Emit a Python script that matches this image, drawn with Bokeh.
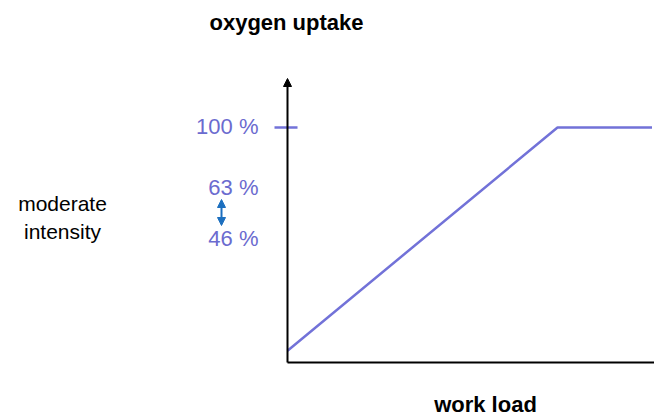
from bokeh.plotting import figure
from bokeh.models import Range1d, Arrow, NormalHead, Label
from bokeh.embed import file_html
from bokeh.resources import INLINE

# data
load = [0, 100, 135]          # work load (arbitrary units)
uptake = [5, 100, 100]        # oxygen uptake (% of max)
pct_labels = ["100 %", "63 %", "46 %"]
side_label = ["moderate", "intensity"]
x_title = "work load"
y_title = "oxygen uptake"

W, H = 654, 418
# pixel mapping helpers (screen px -> data)
OX, OY, KX, KY = 287, 362, 2.7, 2.35
def sx(px):
    return (px - OX) / KX
def sy(py):
    return (OY - py) / KY

p = figure(width=W, height=H, output_backend="svg", toolbar_location=None,
           x_range=Range1d(sx(0), sx(W)), y_range=Range1d(sy(H), sy(0)),
           x_axis_type=None, y_axis_type=None, min_border=0,
           outline_line_color=None)
p.xgrid.visible = False
p.ygrid.visible = False

FONT = "Liberation Sans"
PURPLE = "#7272d8"
TXT = "#6b6bcf"
BLUE = "#1c6fbf"

# axes
p.segment(x0=[0], y0=[0], x1=[sx(654)], y1=[0], line_color="black", line_width=2)
p.add_layout(Arrow(end=NormalHead(size=8, fill_color="black", line_color="black"),
                   x_start=0, y_start=0, x_end=0, y_end=sy(78),
                   line_color="black", line_width=2))

# 100% tick
p.segment(x0=[sx(274)], y0=[uptake[1]], x1=[sx(297)], y1=[uptake[1]],
          line_color=PURPLE, line_width=2.5)

# curve
p.line(load, uptake, line_color=PURPLE, line_width=2.5)

# percent labels
for t, py in zip(pct_labels, [126, 187, 238]):
    p.add_layout(Label(x=sx(258), y=sy(py), text=t, text_align="right",
                       text_baseline="middle", text_font=FONT,
                       text_font_size="22px", text_color=TXT))

# double arrow
p.add_layout(Arrow(start=NormalHead(size=8, fill_color=BLUE, line_color=BLUE),
                   end=NormalHead(size=8, fill_color=BLUE, line_color=BLUE),
                   x_start=sx(221), y_start=sy(225), x_end=sx(221), y_end=sy(199),
                   line_color=BLUE, line_width=2))

# side labels
for t, py in zip(side_label, [203, 231]):
    p.add_layout(Label(x=sx(62), y=sy(py), text=t, text_align="center",
                       text_baseline="middle", text_font=FONT,
                       text_font_size="21px", text_color="black"))

# titles
p.add_layout(Label(x=sx(286), y=sy(22), text=y_title, text_align="center",
                   text_baseline="middle", text_font=FONT, text_font_style="bold",
                   text_font_size="22px", text_color="black"))
p.add_layout(Label(x=sx(485), y=sy(404), text=x_title, text_align="center",
                   text_baseline="middle", text_font=FONT, text_font_style="bold",
                   text_font_size="22px", text_color="black"))

open("out.html", "w").write(file_html(p, INLINE))
